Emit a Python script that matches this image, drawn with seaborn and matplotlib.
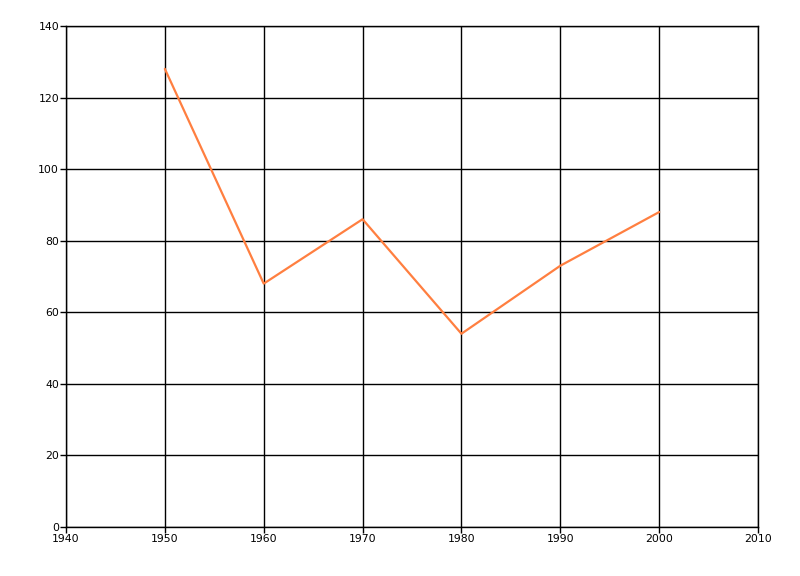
import matplotlib
matplotlib.use("Agg")
import matplotlib.pyplot as plt
import seaborn as sns
import pandas as pd

# values
years = [1950, 1960, 1970, 1980, 1990, 2000]
values = [128, 68, 86, 54, 73, 88]
x_ticks = [1940, 1950, 1960, 1970, 1980, 1990, 2000, 2010]
y_ticks = [0, 20, 40, 60, 80, 100, 120, 140]

sns.set_theme(style="white")
plt.rcParams['font.family'] = ['DejaVu Sans']

df = pd.DataFrame({'year': years, 'value': values})

fig = plt.figure(figsize=(8, 5.76), dpi=100)
ax = fig.add_axes([0.0825, 0.085, 0.865, 0.87])

sns.lineplot(data=df, x='year', y='value', ax=ax, color='#FF7F40', linewidth=1.6, zorder=3)

ax.set_xlim(1940, 2010); ax.set_ylim(0, 140)
ax.set_xticks(x_ticks); ax.set_yticks(y_ticks)
ax.grid(True, color='black', linewidth=1.0, zorder=1)
ax.set_axisbelow(True)
for s in ax.spines.values():
    s.set_color('black'); s.set_linewidth(1.0)
ax.tick_params(axis='both', which='both', direction='out', length=4, width=1, color='black',
               labelsize=7.8, labelcolor='black', pad=1, bottom=True, left=True)
ax.set_xlabel(''); ax.set_ylabel('')

fig.savefig('out.png', dpi=100)
